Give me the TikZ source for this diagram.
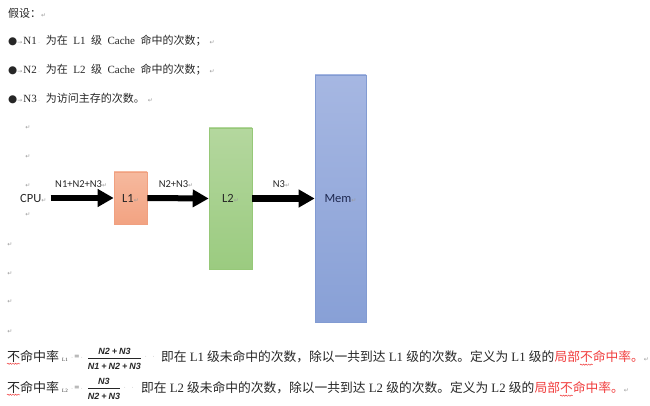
\documentclass[tikz,border=0pt]{standalone}
\usepackage{fontspec}
\setmainfont{Liberation Serif}
\newfontfamily\zh{Noto Sans CJK SC}
\newfontfamily\cali{Carlito}
\newfontfamily\dv{DejaVu Sans}
\newfontfamily\lsans{Liberation Sans}
\usetikzlibrary{arrows.meta,decorations.pathmorphing,calc}
\definecolor{txt}{HTML}{262626}
\definecolor{redt}{HTML}{F03C3C}
\definecolor{markc}{HTML}{9A9A9A}
\newcommand\pmk{{\dv\fontsize{6}{6}\selectfont\color{markc}↵}}
\newcommand\spk{{\dv\fontsize{5}{5}\selectfont\color{markc}·}}
\newcommand\tbk{{\dv\fontsize{6}{6}\selectfont\color{markc}→}}
\newcommand\fr{\lsans\bfseries\itshape\fontsize{9}{9}\selectfont}
\newcommand\pl{\hspace{2pt}+\hspace{2pt}}
\newcommand\gp{\hspace{5.5pt}}
\newcommand\bul{{\dv\fontsize{10.5}{10.5}\selectfont ●}}
\begin{document}
\begin{tikzpicture}[x=1pt,y=-1pt,
  txtnode/.style={inner sep=0pt, anchor=west, text=txt, font=\fontsize{11}{12}\selectfont},
  bodyline/.style={inner sep=0pt, anchor=west, text=txt, font=\fontsize{12.75}{13}\selectfont},
  pmark/.style={inner sep=0pt},
  box/.style={draw, line width=0.6pt, inner sep=0pt, text=txt, font=\cali\fontsize{12.5}{13}\selectfont},
  fatarrow/.style={line width=6pt, -{Triangle[length=16pt,width=17pt]}, black},
  alabel/.style={midway, yshift=14pt, inner sep=0pt, text=txt, font=\cali\fontsize{10.5}{11}\selectfont},
  wavy/.style={redt, line width=0.5pt, decorate, decoration={snake, amplitude=0.6pt, segment length=2.6pt}},
  fracrule/.style={line width=0.5pt, txt}
]
\useasboundingbox (0,0) rectangle (650,406);

% header text
\node[txtnode] (hd) at (8,13) {{\zh 假设：}\pmk};
\node[txtnode] (b1) at (8,41) {\bul\tbk\hspace{1pt}N1\hspace{1.5pt}\spk\hspace{6pt}{\zh 为在}\gp L1\gp{\zh 级}\gp Cache\gp{\zh 命中的次数；}\hspace{3pt}\pmk};
\node[txtnode] (b2) at (8,70) {\bul\tbk\hspace{1pt}N2\hspace{1.5pt}\spk\hspace{6pt}{\zh 为在}\gp L2\gp{\zh 级}\gp Cache\gp{\zh 命中的次数；}\hspace{3pt}\pmk};
\node[txtnode] (b3) at (8,99) {\bul\tbk\hspace{1pt}N3\hspace{1.5pt}\spk\hspace{6pt}{\zh 为访问主存的次数。}\hspace{3pt}\pmk};

% empty paragraph marks
\node[pmark] (m1) at (28,128) {\pmk};
\node[pmark] (m2) at (28,157) {\pmk};
\node[pmark] (m3) at (28,186) {\pmk};
\node[pmark] (m4) at (28,215) {\pmk};
\node[pmark] (m5) at (10,245) {\pmk};
\node[pmark] (m6) at (10,274) {\pmk};
\node[pmark] (m7) at (10,302) {\pmk};
\node[pmark] (m8) at (10,332) {\pmk};

% diagram
\node[inner sep=0pt, anchor=west, text=txt, font=\cali\fontsize{12.5}{13}\selectfont] (cpu) at (20,198) {CPU\pmk};
\node[box, draw={rgb,255:red,240;green,160;blue,128}, top color={rgb,255:red,246;green,185;blue,158}, bottom color={rgb,255:red,242;green,163;blue,130}, minimum width=33pt, minimum height=52pt] (L1) at (130.5,198) {L1\pmk};
\node[box, draw={rgb,255:red,150;green,200;blue,120}, top color={rgb,255:red,180;green,215;blue,158}, bottom color={rgb,255:red,155;green,203;blue,128}, minimum width=43pt, minimum height=141pt] (L2) at (230.5,198.5) {L2\pmk};
\node[box, draw={rgb,255:red,130;green,155;blue,210}, top color={rgb,255:red,166;green,183;blue,226}, bottom color={rgb,255:red,136;green,160;blue,214}, minimum width=51pt, minimum height=247pt, text={rgb,255:red,30;green,40;blue,80}] (mem) at (340.5,198.5) {Mem\pmk};

\draw[fatarrow] ([xshift=4pt]cpu.east) -- node[alabel, xshift=-1pt] (la1) {N1+N2+N3\pmk} (L1.west);
\draw[fatarrow] (L1.east) -- node[alabel, xshift=-2pt] (la2) {N2+N3\pmk} (L2.west);
\draw[fatarrow] (L2.east) -- node[alabel, xshift=-2pt] (la3) {N3\pmk} (mem.west);

% formula line 1
\node[inner sep=0pt, anchor=west, text=txt, font=\zh\fontsize{13}{13}\selectfont] (nm1) at (7,356) {不命中率};
\node[inner sep=0pt, text=txt, font=\fontsize{5}{5}\selectfont] (s1) at (65,360) {L1};
\node[inner sep=0pt, text=txt, font=\fontsize{9}{9}\selectfont] (e1) at (77,357) {\spk\,=\,\spk};
\node[inner sep=0pt, text=txt, font=\fr] (n1) at (114.5,351) {N2\pl N3};
\node[inner sep=0pt, text=txt, font=\fr] (d1) at (114.5,366.5) {N1\pl N2\pl N3};
\draw[fracrule] (88,358.5) -- (141,358.5);
\node[inner sep=0pt, anchor=west] (dt1) at (145,357) {\spk\hspace{6pt}\spk};
\node[bodyline] (r1) at (161,357) {{\zh 即在} L1 {\zh 级未命中的次数，除以一共到达} L1 {\zh 级的次数。定义为} L1 {\zh 级的}};
\node[bodyline, text=redt] (red1) at (r1.east) {{\zh 局部不命中率。}\pmk};
\draw[wavy] ($(red1.south west)+(25.5,1.5)$) -- ++(12.75,0);
\draw[wavy] ($(nm1.south west)+(0,1.5)$) -- ++(13,0);

% formula line 2
\node[inner sep=0pt, anchor=west, text=txt, font=\zh\fontsize{13}{13}\selectfont] (nm2) at (7,387) {不命中率};
\node[inner sep=0pt, text=txt, font=\fontsize{5}{5}\selectfont] (s2) at (65,391) {L2};
\node[inner sep=0pt, text=txt, font=\fontsize{9}{9}\selectfont] (e2) at (77,388) {\spk\,=\,\spk};
\node[inner sep=0pt, text=txt, font=\fr] (n2) at (104,381.5) {N3};
\node[inner sep=0pt, text=txt, font=\fr] (d2) at (104,396.5) {N2\pl N3};
\draw[fracrule] (88,388.5) -- (120,388.5);
\node[inner sep=0pt, anchor=west] (dt2) at (124,388) {\spk\hspace{6pt}\spk};
\node[bodyline] (r2) at (141,388) {{\zh 即在} L2 {\zh 级未命中的次数，除以一共到达} L2 {\zh 级的次数。定义为} L2 {\zh 级的}};
\node[bodyline, text=redt] (red2) at (r2.east) {{\zh 局部不命中率。}\pmk};
\draw[wavy] ($(nm2.south west)+(0,1.5)$) -- ++(13,0);
\draw[wavy] ($(red2.south west)+(25.5,1.5)$) -- ++(12.75,0);
\end{tikzpicture}
\end{document}
